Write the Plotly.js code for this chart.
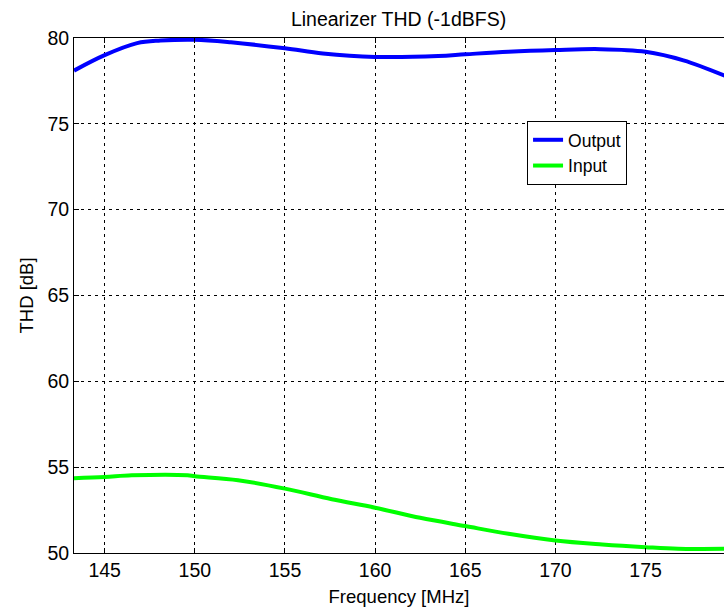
<!DOCTYPE html>
<html>
<head>
<meta charset="utf-8">
<script src="https://cdn.plot.ly/plotly-3.0.1.min.js"></script>
<style>html,body{margin:0;padding:0;background:#fff;}#chart{width:724px;height:608px;}</style>
</head>
<body>
<div id="chart"></div>
<script>
const freqOut = [143.3, 145, 146.8, 148.1, 150, 152, 155, 157.1, 160, 163.5, 165, 167.4, 170, 172.5, 175, 177.1, 179.4];
const thdOut  = [78.1, 79.0, 79.7, 79.85, 79.9, 79.75, 79.4, 79.1, 78.9, 78.95, 79.05, 79.2, 79.3, 79.35, 79.2, 78.7, 77.8];
const freqIn  = [143.3, 145, 146.5, 149.6, 150, 152.4, 155, 157.6, 160, 162.5, 165, 167.4, 170, 172.6, 175, 176.8, 179.4];
const thdIn   = [54.36, 54.43, 54.53, 54.53, 54.47, 54.24, 53.75, 53.13, 52.64, 52.05, 51.57, 51.12, 50.73, 50.5, 50.34, 50.25, 50.25];
const xTicks = [145, 150, 155, 160, 165, 170, 175];
const yTicks = [50, 55, 60, 65, 70, 75, 80];

const fam = 'Liberation Sans, Arial, sans-serif';
const tickFont = {family: fam, size: 19.5, color: '#000'};
const titleFont = {family: fam, size: 19.5, color: '#000'};
const axTitleFont = {family: fam, size: 18.5, color: '#000'};
const legFont = {family: fam, size: 17.5, color: '#000'};

const traces = [
  {x: freqOut, y: thdOut, name: 'Output', mode: 'lines',
   line: {color: '#0000ff', width: 4, shape: 'spline', smoothing: 1}},
  {x: freqIn, y: thdIn, name: 'Input', mode: 'lines',
   line: {color: '#00ff00', width: 4, shape: 'spline', smoothing: 1}}
];

const axisCommon = {
  showline: true, linecolor: '#000', linewidth: 1, mirror: 'ticks',
  ticks: 'inside', ticklen: 5, tickcolor: '#000',
  showgrid: true, gridcolor: '#000', gridwidth: 1, griddash: '3px,4px',
  zeroline: false, tickfont: tickFont
};

const layout = {
  width: 724, height: 608,
  margin: {l: 74, r: 0, t: 38, b: 55},
  paper_bgcolor: '#fff', plot_bgcolor: '#fff',
  font: tickFont,
  title: {text: 'Linearizer THD (-1dBFS)', font: titleFont, x: 0.5505, xanchor: 'center', y: 0.969, yanchor: 'middle'},
  xaxis: Object.assign({}, axisCommon, {
    range: [143.3, 179.35], tickvals: xTicks, ticktext: xTicks.map(String),
    title: {text: 'Frequency [MHz]', font: axTitleFont, standoff: 9}
  }),
  yaxis: Object.assign({}, axisCommon, {
    range: [50, 80], tickvals: yTicks, ticktext: yTicks.map(String),
    title: {text: 'THD [dB]', font: axTitleFont, standoff: 8}
  }),
  showlegend: true,
  legend: {x: 0.697, y: 0.839, xanchor: 'left', yanchor: 'top',
    bgcolor: '#fff', bordercolor: '#000', borderwidth: 1, font: legFont,
    tracegroupgap: 0, itemwidth: 30}
};

Plotly.newPlot('chart', traces, layout, {displayModeBar: false, staticPlot: true});
</script>
</body>
</html>
